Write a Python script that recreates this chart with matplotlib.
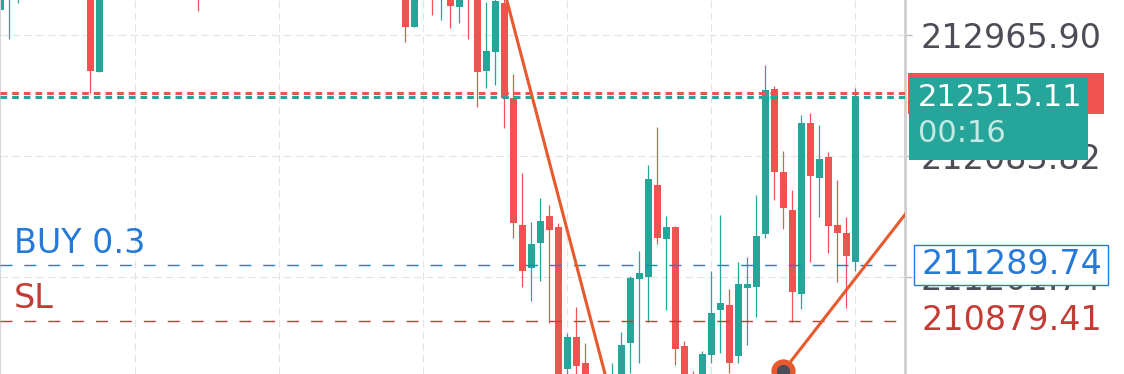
import matplotlib.pyplot as plt
import matplotlib.transforms as mtransforms
from matplotlib.patches import Rectangle

# === 1. Data ===
# candle index -> open, high, low, close (prices)
opens = [213148, 213258, 213294, 213510, 213450, 213530, 213600, 213500, 213560, 213420,
         213440, 212698, 213470, 213520, 213610, 213570, 213480, 213550, 213660, 213590,
         213470, 213520, 213513, 213250, 213350, 213440, 213390, 213480, 213580, 213510,
         213450, 213560, 213660, 213620, 213560, 213500, 213590, 213540, 213440, 213510,
         213400, 213460, 213380, 213420, 213310, 213367, 213027, 213400, 213477, 213236,
         213404, 213173, 213440, 213294, 212705, 212844, 213197, 212504, 211579, 211263,
         211450, 211645, 211562, 210526, 210759, 210569, 210301, 210046, 210228, 210374,
         210720, 211185, 211202, 211871, 211477, 211567, 210696, 210447, 210374, 210630,
         210958, 210995, 210623, 211121, 211129, 211511, 212570, 211968, 211688, 211075,
         212326, 211920, 212078, 211579, 211523, 211311]
highs = [213477, 213732, 213623, 213590, 213560, 213640, 213660, 213580, 213610, 213520,
         213513, 213550, 213560, 213650, 213700, 213640, 213590, 213690, 213720, 213640,
         213560, 213580, 213586, 213380, 213470, 213520, 213500, 213610, 213640, 213560,
         213580, 213690, 213740, 213700, 213620, 213610, 213660, 213580, 213530, 213570,
         213480, 213520, 213450, 213470, 213420, 213440, 213477, 213470, 213550, 213513,
         213477, 213440, 213513, 213367, 213205, 213280, 213243, 212681, 211956, 211603,
         211774, 211725, 211596, 210793, 210983, 210720, 210411, 210374, 210569, 210796,
         211209, 211389, 212017, 212297, 211645, 211572, 210734, 210515, 210661, 211243,
         211652, 211112, 211307, 211343, 211798, 212747, 212594, 212121, 211834, 212382,
         212394, 212309, 212114, 211907, 211640, 212577]
lows = [213146, 212937, 213200, 213420, 213400, 213490, 213480, 213430, 213380, 213350,
        212545, 212696, 213400, 213470, 213540, 213450, 213420, 213510, 213560, 213440,
        213380, 213290, 213143, 213240, 213320, 213360, 213370, 213450, 213490, 213420,
        213430, 213540, 213590, 213530, 213470, 213480, 213520, 213420, 213400, 213380,
        213330, 213360, 213300, 213280, 213270, 212917, 213024, 213250, 213112, 213075,
        213019, 213056, 212937, 212438, 212579, 212601, 212285, 211482, 211124, 211026,
        211172, 210861, 210155, 210338, 210447, 210082, 209936, 209973, 210155, 210301,
        210496, 210574, 210873, 211440, 210958, 210557, 210338, 210228, 210301, 210569,
        210642, 210496, 210569, 210703, 210910, 211482, 211761, 211550, 210873, 210964,
        211311, 211640, 211377, 211165, 210971, 211245]
closes = [213404, 213659, 213513, 213450, 213530, 213600, 213500, 213560, 213420, 213480,
          212705, 213477, 213520, 213610, 213570, 213480, 213550, 213660, 213590, 213470,
          213520, 213330, 213243, 213350, 213440, 213390, 213480, 213580, 213510, 213450,
          213560, 213660, 213620, 213560, 213500, 213590, 213540, 213440, 213510, 213400,
          213460, 213380, 213420, 213310, 213390, 213027, 213404, 213290, 213243, 213440,
          213180, 213367, 213236, 212698, 212849, 213214, 212506, 211591, 211245, 211440,
          211610, 211542, 210301, 210759, 210552, 210155, 210009, 210228, 210447, 210703,
          211190, 211226, 211915, 211482, 211567, 210672, 210411, 210301, 210637, 210934,
          211007, 210574, 211148, 211146, 211499, 212564, 211968, 211705, 211092, 212326,
          211937, 212061, 211574, 211523, 211355, 212515.11]

last_price = 212515.11
ask_price = 212540.3
timer = "00:16"
buy_label, buy_price = "BUY 0.3", 211289.74
sl_label, sl_price = "SL", 210879.41

price_ticks = [212965.90, 212083.82, 211201.74]
time_grid = [15, 31, 47, 63, 79, 95]

# trend lines (candle index, price)
trend_down = [(56.0, 213289), (68.0, 210289)]
trend_up = [(87.0, 210513), (102.0, 211780)]

teal = '#26a69a'
red = '#ef5350'
orange = '#e65a2e'
blue = '#2479d9'
sl_red = '#c23b34'

plt.rcParams['lines.scale_dashes'] = False
plt.rcParams['font.family'] = ['DejaVu Sans']

# === 2. Canvas ===
W, H = 1124, 374
fig = plt.figure(figsize=(W / 100, H / 100), dpi=100)
plot_w = 905
ax = fig.add_axes([0, 0, plot_w / W, 1])
ymin, ymax = 210491.2, 213221.4
ax.set_ylim(ymin, ymax)
ax.set_xlim(-0.033, 100.52)
per_px = (ymax - ymin) / H  # price per pixel, for box sizes

for s in ['top', 'bottom']:
    ax.spines[s].set_visible(False)
ax.spines['left'].set_color('#d6d6d6')
ax.spines['left'].set_linewidth(0.8)
ax.spines['right'].set_color('#cfcfcf')
ax.spines['right'].set_linewidth(2.0)

# grid
ax.set_xticks(time_grid)
ax.tick_params(axis='x', length=0, labelbottom=False)
ax.set_yticks(price_ticks, [f'{t:.2f}' for t in price_ticks])
ax.yaxis.tick_right()
ax.tick_params(axis='y', length=5, width=1, color='#bdbdbd', pad=6.5,
               labelsize=24, labelcolor='#4d4d57')
ax.grid(True, color='#e3e3e3', linewidth=0.8, linestyle=(0, (5.5, 3.0)))
ax.set_axisbelow(True)

# === 3. Candles ===
for i in range(len(opens)):
    o, h, l, c = opens[i], highs[i], lows[i], closes[i]
    col = teal if c >= o else red
    ax.vlines(i, l, h, color=col, linewidth=0.9, zorder=2)
    ax.bar(i, abs(c - o), bottom=min(o, c), width=0.74, color=col,
           linewidth=0, zorder=2)

# === 4. Price lines ===
ax.axhline(ask_price, color=red, linewidth=2.2, linestyle=(0, (4.8, 3.6)), zorder=4)
ax.axhline(last_price, color=teal, linewidth=2.2, linestyle=(0, (4.8, 3.6)), zorder=4)
ax.axhline(buy_price, color=blue, linewidth=1.0, linestyle=(0, (8.6, 8.6)), zorder=3)
ax.axhline(sl_price, color=sl_red, linewidth=1.0, linestyle=(0, (8.6, 8.6)), zorder=3)

# trend lines
ax.plot([p[0] for p in trend_down], [p[1] for p in trend_down], color=orange,
        linewidth=2.2, zorder=5, solid_capstyle='round')
ax.plot([p[0] for p in trend_up], [p[1] for p in trend_up], color=orange,
        linewidth=2.2, zorder=5, solid_capstyle='round')
ax.plot(*trend_up[0], 'o', ms=16.5, mfc=orange, mec=orange, zorder=6)
ax.plot(*trend_up[0], 'o', ms=8.5, mfc='#4b4e58', mec='#4b4e58', zorder=7)

# === 5. Order labels ===
tr = mtransforms.blended_transform_factory(ax.transAxes, ax.transData)
ax.annotate(buy_label, xy=(0, buy_price), xycoords=tr, xytext=(10, 15),
            textcoords='offset points', ha='left', va='center',
            fontsize=24, color=blue, zorder=8)
ax.annotate(sl_label, xy=(0, sl_price), xycoords=tr, xytext=(10, 16),
            textcoords='offset points', ha='left', va='center',
            fontsize=24, color=sl_red, zorder=8)

# === 6. Right scale boxes ===
x0 = lambda px: px / plot_w
ax.add_patch(Rectangle((x0(908.3), ask_price - 21 * per_px), 195.7 / plot_w, 41 * per_px,
                       transform=tr, facecolor=red, edgecolor='none',
                       clip_on=False, zorder=9))
ax.add_patch(Rectangle((x0(909), last_price - 63.3 * per_px), 179.3 / plot_w, 83.3 * per_px,
                       transform=tr, facecolor=teal, edgecolor='none',
                       clip_on=False, zorder=10))
ax.annotate(f'{last_price:.2f}', xy=(1, last_price), xycoords=tr, xytext=(9.1, -0.5),
            textcoords='offset points', ha='left', va='center', fontsize=22,
            color='white', annotation_clip=False, zorder=11)
ax.annotate(timer, xy=(1, last_price), xycoords=tr, xytext=(9.1, -26.5),
            textcoords='offset points', ha='left', va='center', fontsize=22,
            color='#c3e9e4', annotation_clip=False, zorder=11)

ax.add_patch(Rectangle((x0(914.3), buy_price - 20 * per_px), 194 / plot_w, 40 * per_px,
                       transform=tr, facecolor='white', edgecolor=blue, linewidth=1.0,
                       clip_on=False, zorder=10))
ax.annotate(f'{buy_price:.2f}', xy=(1, buy_price), xycoords=tr, xytext=(11.8, 0),
            textcoords='offset points', ha='left', va='center', fontsize=24,
            color=blue, annotation_clip=False, zorder=11)
ax.annotate(f'{sl_price:.2f}', xy=(1, sl_price), xycoords=tr, xytext=(11.8, 0),
            textcoords='offset points', ha='left', va='center', fontsize=24,
            color=sl_red, annotation_clip=False, zorder=11)

fig.savefig('out.png', dpi=100, facecolor='white')
